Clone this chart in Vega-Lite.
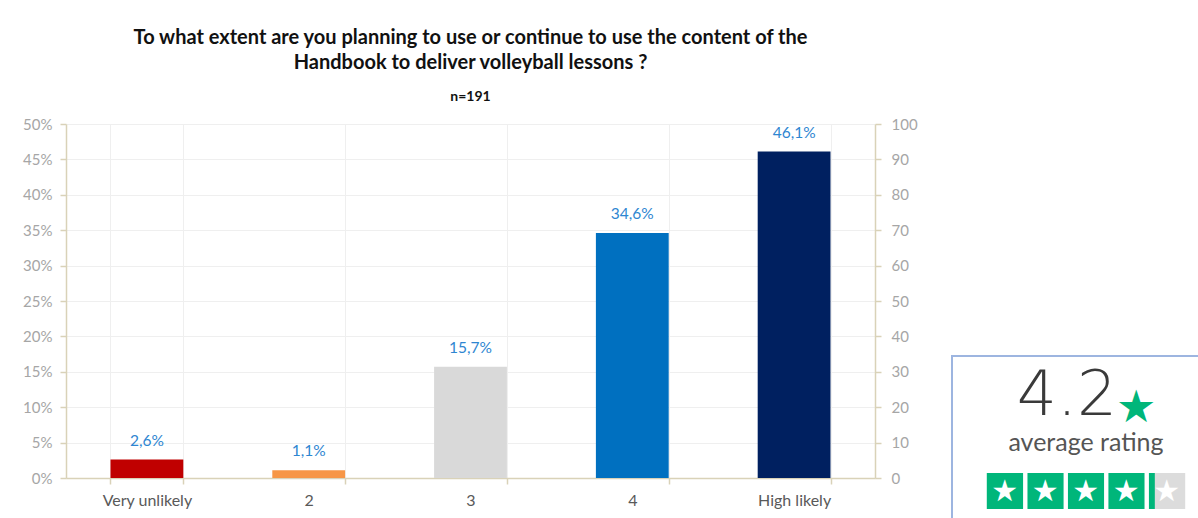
{
  "$schema": "https://vega.github.io/schema/vega-lite/v6.json",
  "padding": {"left": 22, "top": 28, "right": 0, "bottom": 0},
  "background": "white",
  "config": {
    "locale": {"number": {"decimal": ",", "thousands": ".", "grouping": [3], "currency": ["", " €"]}},
    "font": "Lato",
    "view": {"stroke": null},
    "concat": {"spacing": 33}
  },
  "hconcat": [
    {
      "width": 809,
      "height": 354,
      "title": {
        "text": ["To what extent are you planning to use or continue to use the content of the", "Handbook to deliver volleyball lessons ?"],
        "subtitle": "n=191",
        "font": "Lato",
        "fontSize": 20,
        "fontWeight": "bold",
        "color": "#111111",
        "lineHeight": 25,
        "subtitleFont": "Lato",
        "subtitleFontSize": 14,
        "subtitleFontWeight": "bold",
        "subtitleColor": "#111111",
        "subtitlePadding": 17,
        "offset": 13,
        "anchor": "middle"
      },
      "data": {
        "values": [
          {"answer": "Very unlikely", "share": 0.026, "count": 5, "color": "#C00000"},
          {"answer": "2", "share": 0.011, "count": 2, "color": "#F79646"},
          {"answer": "3", "share": 0.157, "count": 30, "color": "#D9D9D9"},
          {"answer": "4", "share": 0.346, "count": 66, "color": "#0070C0"},
          {"answer": "High likely", "share": 0.461, "count": 88, "color": "#002060"}
        ]
      },
      "encoding": {
        "x": {
          "field": "answer",
          "type": "nominal",
          "sort": null,
          "scale": {"paddingInner": 0.55, "paddingOuter": 0.275},
          "axis": {
            "title": null,
            "labelAngle": 0,
            "labelFontSize": 16,
            "labelColor": "#595959",
            "labelPadding": 8,
            "domainColor": "#D9D2B8",
            "domainWidth": 1.5,
            "tickColor": "#D9D2B8",
            "tickWidth": 1.5,
            "tickSize": 6,
            "tickBand": "extent",
            "grid": true,
            "gridColor": "#EFEFEF",
            "gridWidth": 1
          }
        }
      },
      "layer": [
        {
          "encoding": {
            "y": {
              "field": "share",
              "type": "quantitative",
              "scale": {"domain": [0, 0.5], "nice": false},
              "axis": {
                "title": null,
                "format": ".0%",
                "values": [0, 0.05, 0.1, 0.15, 0.2, 0.25, 0.3, 0.35, 0.4, 0.45, 0.5],
                "labelOverlap": false,
                "labelFontSize": 15,
                "labelColor": "#A6A6A6",
                "labelPadding": 8,
                "domainColor": "#D9D2B8",
                "domainWidth": 1.5,
                "tickColor": "#D9D2B8",
                "tickWidth": 1.5,
                "tickSize": 6,
                "grid": true,
                "gridColor": "#EFEFEF",
                "gridWidth": 1
              }
            }
          },
          "layer": [
            {
              "mark": {"type": "bar"},
              "encoding": {
                "color": {"field": "color", "type": "nominal", "scale": null, "legend": null}
              }
            },
            {
              "mark": {"type": "text", "baseline": "alphabetic", "dy": -14, "fontSize": 15.5, "color": "#2E86D1"},
              "encoding": {
                "text": {"field": "share", "type": "quantitative", "format": ".1%"}
              }
            }
          ]
        },
        {
          "mark": {"type": "point", "opacity": 0},
          "encoding": {
            "y": {
              "field": "count",
              "type": "quantitative",
              "scale": {"domain": [0, 100], "nice": false},
              "axis": {
                "orient": "right",
                "title": null,
                "values": [0, 10, 20, 30, 40, 50, 60, 70, 80, 90, 100],
                "labelOverlap": false,
                "labelFontSize": 15,
                "labelColor": "#A6A6A6",
                "labelPadding": 10,
                "domainColor": "#D9D2B8",
                "domainWidth": 1.5,
                "tickColor": "#D9D2B8",
                "tickWidth": 1.5,
                "tickSize": 6,
                "grid": false
              }
            }
          }
        }
      ],
      "resolve": {"scale": {"y": "independent"}, "axis": {"y": "independent"}}
    },
    {
      "spacing": 0,
      "vconcat": [
        {
          "width": 268,
          "height": 231,
          "data": {"values": []},
          "mark": "point",
          "encoding": {}
        },
        {
          "width": 268,
          "height": 175,
          "view": {"stroke": "#9DB5E0", "strokeWidth": 2},
          "layer": [
            {
              "data": {"values": [{"row": "score", "label": "4.2"}]},
              "mark": {"type": "text", "align": "right", "baseline": "middle", "dx": 31, "dy": 0, "fontSize": 63, "fontWeight": 200, "font": "DejaVu Sans", "color": "#3A3A3A"},
              "encoding": {
                "y": {"field": "row", "type": "nominal", "scale": {"domain": ["score", "label", "stars"], "paddingInner": 0.24, "paddingOuter": 0.46}, "axis": null},
                "text": {"field": "label"}
              }
            },
            {
              "data": {"values": [{"row": "score", "label": "★"}]},
              "mark": {"type": "text", "align": "left", "baseline": "alphabetic", "dx": 30, "dy": 26, "fontSize": 45, "font": "DejaVu Sans", "color": "#00B67A"},
              "encoding": {
                "y": {"field": "row", "type": "nominal"},
                "text": {"field": "label"}
              }
            },
            {
              "data": {"values": [{"row": "label", "label": "average rating"}]},
              "mark": {"type": "text", "align": "center", "baseline": "middle", "dy": -1, "fontSize": 25, "font": "Lato", "color": "#555555"},
              "encoding": {
                "y": {"field": "row", "type": "nominal"},
                "text": {"field": "label"}
              }
            },
            {
              "data": {"name": "stars", "values": [
                {"row": "stars", "star": 1, "lo": 0, "hi": 1, "filled": 1},
                {"row": "stars", "star": 2, "lo": 1, "hi": 2, "filled": 2},
                {"row": "stars", "star": 3, "lo": 2, "hi": 3, "filled": 3},
                {"row": "stars", "star": 4, "lo": 3, "hi": 4, "filled": 4},
                {"row": "stars", "star": 5, "lo": 4, "hi": 5, "filled": 4.2}
              ]},
              "layer": [
                {
                  "mark": {"type": "bar", "height": 40, "color": "#DCDCDC"},
                  "encoding": {
                    "x": {"field": "lo", "type": "quantitative", "scale": {"domain": [-0.81, 5.81], "nice": false, "zero": false}, "axis": null},
                    "x2": {"field": "hi"},
                    "y": {"field": "row", "type": "nominal"}
                  }
                },
                {
                  "mark": {"type": "bar", "height": 40, "color": "#00B67A"},
                  "encoding": {
                    "x": {"field": "lo", "type": "quantitative"},
                    "x2": {"field": "filled"},
                    "y": {"field": "row", "type": "nominal"}
                  }
                },
                {
                  "mark": {"type": "bar", "height": 40, "fillOpacity": 0, "stroke": "white", "strokeWidth": 4},
                  "encoding": {
                    "x": {"field": "lo", "type": "quantitative"},
                    "x2": {"field": "hi"},
                    "y": {"field": "row", "type": "nominal"}
                  }
                },
                {
                  "mark": {"type": "text", "align": "center", "baseline": "middle", "dx": 20, "dy": 1, "fontSize": 30, "font": "DejaVu Sans", "color": "white", "text": "★"},
                  "encoding": {
                    "x": {"field": "lo", "type": "quantitative"},
                    "y": {"field": "row", "type": "nominal"}
                  }
                }
              ]
            }
          ]
        }
      ]
    }
  ]
}
